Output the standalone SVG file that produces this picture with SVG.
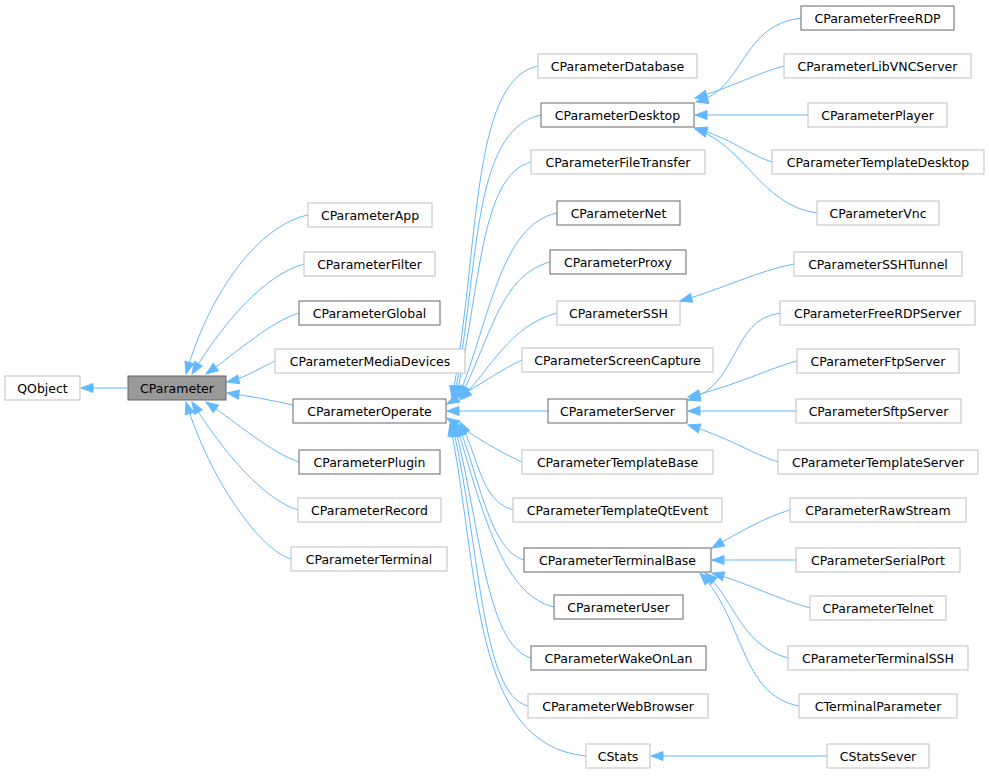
<svg xmlns="http://www.w3.org/2000/svg" width="989" height="776" viewBox="0 0 989 776">
<style>
text{font-family:"DejaVu Sans","Liberation Sans",sans-serif;font-size:12.5px;fill:#000;text-anchor:middle;dominant-baseline:central}
.n rect{fill:#fff;stroke:#bfbfbf;stroke-width:1}
.d rect{fill:#fff;stroke:#666;stroke-width:1}
#CParameter rect{fill:#999;stroke:#666}
#edges path{fill:none;stroke:#63b8ff;stroke-width:1;marker-end:url(#a)}
</style>
<defs><marker id="a" markerUnits="userSpaceOnUse" markerWidth="14" markerHeight="12" refX="13" refY="6" orient="auto"><path d="M1,1.5 L13,6 L1,10.5 Z" fill="#63b8ff" stroke="#63b8ff"/></marker></defs>
<rect width="989" height="776" fill="#fff"/>
<g id="edges">
<path d="M127,388 L81,388"/>
<path d="M308,215 C260,225 210,290 186,374"/>
<path d="M304,264 C265,275 225,320 192,374"/>
<path d="M299,313 C270,322 240,350 206,374"/>
<path d="M275,361 C260,368 245,378 227,382"/>
<path d="M293,405 C270,400 250,396 227,393"/>
<path d="M299,462 C270,452 240,425 206,402"/>
<path d="M298,510 C265,500 225,455 192,402"/>
<path d="M291,559 C260,550 210,480 186,402"/>
<path d="M538,66 C470,80 480,250 452,398"/>
<path d="M541,115 C470,130 480,270 454,398"/>
<path d="M531,162 C480,175 480,290 456,398"/>
<path d="M557,213 C500,225 490,320 458,398"/>
<path d="M550,262 C500,275 490,340 460,398"/>
<path d="M557,313 C510,325 490,370 460,400"/>
<path d="M522,360 C500,370 480,385 447,404"/>
<path d="M548,411 L447,411"/>
<path d="M522,462 C500,452 480,440 447,418"/>
<path d="M513,510 C480,500 480,460 460,422"/>
<path d="M524,560 C490,550 480,480 458,424"/>
<path d="M554,607 C500,595 480,500 456,424"/>
<path d="M531,658 C485,645 480,520 454,424"/>
<path d="M528,706 C480,695 480,540 452,424"/>
<path d="M586,756 C470,745 480,570 450,424"/>
<path d="M801,18 C740,25 745,90 696,102"/>
<path d="M784,66 C760,72 730,88 695,98"/>
<path d="M808,115 L695,115"/>
<path d="M772,162 C750,155 730,138 695,128"/>
<path d="M817,213 C760,205 745,145 695,129"/>
<path d="M794,264 C760,270 720,290 680,301"/>
<path d="M780,313 C730,320 740,385 688,400"/>
<path d="M797,361 C770,368 735,386 688,397"/>
<path d="M796,411 L688,411"/>
<path d="M778,462 C755,455 725,436 688,425"/>
<path d="M790,510 C765,517 740,532 712,548"/>
<path d="M796,560 L712,560"/>
<path d="M810,608 C780,600 745,582 712,573"/>
<path d="M788,658 C740,645 735,600 705,573"/>
<path d="M799,706 C740,695 745,620 700,573"/>
<path d="M827,756 L651,756"/>
</g>
<g id="QObject" class="n"><rect x="5" y="376" width="75" height="24"/><text x="42.5" y="388">QObject</text></g>
<g id="CParameter" class="d"><rect x="128" y="376" width="98" height="24"/><text x="177" y="388">CParameter</text></g>
<g id="CParameterApp" class="n"><rect x="308" y="203" width="124" height="24"/><text x="370" y="215">CParameterApp</text></g>
<g id="CParameterFilter" class="n"><rect x="304" y="252" width="131" height="24"/><text x="369.5" y="264">CParameterFilter</text></g>
<g id="CParameterGlobal" class="d"><rect x="299" y="301" width="141" height="24"/><text x="369.5" y="313">CParameterGlobal</text></g>
<g id="CParameterMediaDevices" class="n"><rect x="275" y="349" width="190" height="24"/><text x="370" y="361">CParameterMediaDevices</text></g>
<g id="CParameterOperate" class="d"><rect x="293" y="399" width="153" height="24"/><text x="369.5" y="411">CParameterOperate</text></g>
<g id="CParameterPlugin" class="d"><rect x="299" y="450" width="141" height="24"/><text x="369.5" y="462">CParameterPlugin</text></g>
<g id="CParameterRecord" class="n"><rect x="298" y="498" width="143" height="24"/><text x="369.5" y="510">CParameterRecord</text></g>
<g id="CParameterTerminal" class="n"><rect x="291" y="547" width="156" height="24"/><text x="369" y="559">CParameterTerminal</text></g>
<g id="CParameterDatabase" class="n"><rect x="538" y="54" width="159" height="24"/><text x="617.5" y="66">CParameterDatabase</text></g>
<g id="CParameterDesktop" class="d"><rect x="541" y="103" width="153" height="24"/><text x="617.5" y="115">CParameterDesktop</text></g>
<g id="CParameterFileTransfer" class="n"><rect x="531" y="150" width="174" height="24"/><text x="618" y="162">CParameterFileTransfer</text></g>
<g id="CParameterNet" class="d"><rect x="557" y="201" width="123" height="24"/><text x="618.5" y="213">CParameterNet</text></g>
<g id="CParameterProxy" class="d"><rect x="550" y="250" width="136" height="24"/><text x="618" y="262">CParameterProxy</text></g>
<g id="CParameterSSH" class="n"><rect x="557" y="301" width="123" height="24"/><text x="618.5" y="313">CParameterSSH</text></g>
<g id="CParameterScreenCapture" class="n"><rect x="522" y="348" width="191" height="24"/><text x="617.5" y="360">CParameterScreenCapture</text></g>
<g id="CParameterServer" class="d"><rect x="548" y="399" width="139" height="24"/><text x="617.5" y="411">CParameterServer</text></g>
<g id="CParameterTemplateBase" class="n"><rect x="522" y="450" width="191" height="24"/><text x="617.5" y="462">CParameterTemplateBase</text></g>
<g id="CParameterTemplateQtEvent" class="n"><rect x="513" y="498" width="209" height="24"/><text x="617.5" y="510">CParameterTemplateQtEvent</text></g>
<g id="CParameterTerminalBase" class="d"><rect x="524" y="548" width="187" height="24"/><text x="617.5" y="560">CParameterTerminalBase</text></g>
<g id="CParameterUser" class="d"><rect x="554" y="595" width="129" height="24"/><text x="618.5" y="607">CParameterUser</text></g>
<g id="CParameterWakeOnLan" class="d"><rect x="531" y="646" width="175" height="24"/><text x="618.5" y="658">CParameterWakeOnLan</text></g>
<g id="CParameterWebBrowser" class="n"><rect x="528" y="694" width="180" height="24"/><text x="618" y="706">CParameterWebBrowser</text></g>
<g id="CStats" class="n"><rect x="586" y="744" width="64" height="24"/><text x="618" y="756">CStats</text></g>
<g id="CParameterFreeRDP" class="d"><rect x="801" y="6" width="153" height="24"/><text x="877.5" y="18">CParameterFreeRDP</text></g>
<g id="CParameterLibVNCServer" class="n"><rect x="784" y="54" width="187" height="24"/><text x="877.5" y="66">CParameterLibVNCServer</text></g>
<g id="CParameterPlayer" class="n"><rect x="808" y="103" width="139" height="24"/><text x="877.5" y="115">CParameterPlayer</text></g>
<g id="CParameterTemplateDesktop" class="n"><rect x="772" y="150" width="212" height="24"/><text x="878" y="162">CParameterTemplateDesktop</text></g>
<g id="CParameterVnc" class="n"><rect x="817" y="201" width="122" height="24"/><text x="878" y="213">CParameterVnc</text></g>
<g id="CParameterSSHTunnel" class="n"><rect x="794" y="252" width="168" height="24"/><text x="878" y="264">CParameterSSHTunnel</text></g>
<g id="CParameterFreeRDPServer" class="n"><rect x="780" y="301" width="195" height="24"/><text x="877.5" y="313">CParameterFreeRDPServer</text></g>
<g id="CParameterFtpServer" class="n"><rect x="797" y="349" width="162" height="24"/><text x="878" y="361">CParameterFtpServer</text></g>
<g id="CParameterSftpServer" class="n"><rect x="796" y="399" width="165" height="24"/><text x="878.5" y="411">CParameterSftpServer</text></g>
<g id="CParameterTemplateServer" class="n"><rect x="778" y="450" width="200" height="24"/><text x="878" y="462">CParameterTemplateServer</text></g>
<g id="CParameterRawStream" class="n"><rect x="790" y="498" width="176" height="24"/><text x="878" y="510">CParameterRawStream</text></g>
<g id="CParameterSerialPort" class="n"><rect x="796" y="548" width="164" height="24"/><text x="878" y="560">CParameterSerialPort</text></g>
<g id="CParameterTelnet" class="n"><rect x="810" y="596" width="136" height="24"/><text x="878" y="608">CParameterTelnet</text></g>
<g id="CParameterTerminalSSH" class="n"><rect x="788" y="646" width="180" height="24"/><text x="878" y="658">CParameterTerminalSSH</text></g>
<g id="CTerminalParameter" class="n"><rect x="799" y="694" width="158" height="24"/><text x="878" y="706">CTerminalParameter</text></g>
<g id="CStatsSever" class="n"><rect x="827" y="744" width="102" height="24"/><text x="878" y="756">CStatsSever</text></g>
</svg>
